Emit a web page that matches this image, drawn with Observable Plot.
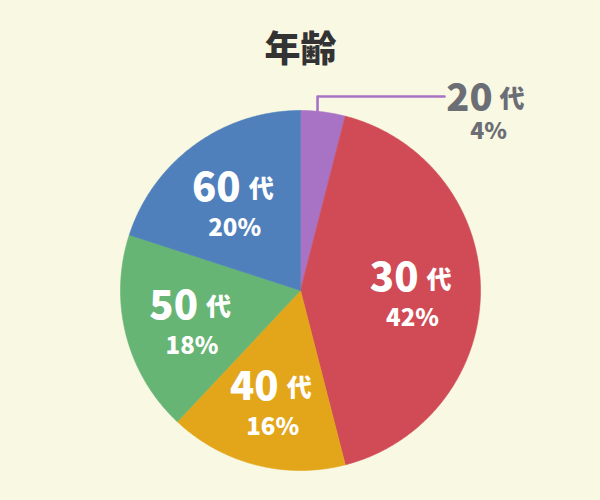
<!DOCTYPE html>
<html>
<head>
<meta charset="utf-8">
<script src="https://cdn.jsdelivr.net/npm/d3@7"></script>
<script src="https://cdn.jsdelivr.net/npm/@observablehq/plot@0.6"></script>
<style>
  html, body { margin: 0; padding: 0; background: #f9f8e3; }
  #chart { width: 600px; height: 500px; }
</style>
</head>
<body>
<div id="chart"></div>
<script>
const title = "年齢";
const categories = ["20代", "30代", "40代", "50代", "60代"];
const values = [4, 42, 16, 18, 20];
const colors = ["#a873c4", "#d04b55", "#e3a61a", "#67b574", "#4f80bb"];
const outsideLabels = ["20代"];

const R = 180;          // pie radius (px units)
const labelR = 112;     // inside label radius
const font = "'Noto Sans CJK JP', 'Noto Sans', sans-serif";

const arcs = d3.pie().sort(null).value(d => d.value).startAngle(0).endAngle(2 * Math.PI)(
  categories.map((name, i) => ({name, value: values[i]}))
);

const toXY = (a, r) => [r * Math.sin(a), r * Math.cos(a)];

// polygon points of each slice
const slicePts = [];
for (const a of arcs) {
  const name = a.data.name;
  slicePts.push({name, x: 0, y: 0});
  const n = Math.max(2, Math.ceil((a.endAngle - a.startAngle) / (Math.PI / 360)));
  for (let k = 0; k <= n; k++) {
    const t = a.startAngle + (a.endAngle - a.startAngle) * k / n;
    const [x, y] = toXY(t, R);
    slicePts.push({name, x, y});
  }
  slicePts.push({name, x: 0, y: 0});
}

const inside = arcs.filter(a => !outsideLabels.includes(a.data.name)).map(a => {
  const m = (a.startAngle + a.endAngle) / 2;
  const [x, y] = toXY(m, labelR);
  const name = a.data.name;
  return {x, y, num: name.slice(0, -1), suf: name.slice(-1), pct: a.data.value + "%"};
});

const outside = arcs.filter(a => outsideLabels.includes(a.data.name)).map(a => {
  const m = (a.startAngle + a.endAngle) / 2;
  const xl = labelR * Math.sin(m) + 3;
  const yl = Math.sqrt(R * R - xl * xl);
  const name = a.data.name;
  return {x0: xl, y0: yl, x1: xl, y1: R + 14, x2: xl + 127, tx: xl + 171,
          num: name.slice(0, -1), suf: name.slice(-1), pct: a.data.value + "%"};
});
const leader = outside.flatMap((d, i) => [
  {i, x: d.x0, y: d.y0}, {i, x: d.x1, y: d.y1}, {i, x: d.x2, y: d.y1}
]);

const chart = Plot.plot({
  width: 600,
  height: 500,
  margin: 0,
  x: {domain: [-300, 300], axis: null},
  y: {domain: [-210, 290], axis: null},
  color: {domain: categories, range: colors},
  style: {background: "transparent", fontFamily: font},
  marks: [
    Plot.line(slicePts, {x: "x", y: "y", z: "name", fill: "name", stroke: "name", strokeWidth: 0.6, curve: "linear"}),
    // title
    Plot.text([title], {frameAnchor: "top", dy: 50, lineAnchor: "middle", fontSize: 36, fontWeight: 900, fill: "#333333"}),
    // inside labels
    Plot.text(inside, {x: "x", y: "y", text: "num", dx: 6, dy: -12, textAnchor: "end", lineAnchor: "middle", fontSize: 40, fontWeight: 900, fill: "white"}),
    Plot.text(inside, {x: "x", y: "y", text: "suf", dx: 14, dy: -10, textAnchor: "start", lineAnchor: "middle", fontSize: 25, fontWeight: 900, fill: "white"}),
    Plot.text(inside, {x: "x", y: "y", text: "pct", dy: 28, textAnchor: "middle", lineAnchor: "middle", fontSize: 24, fontWeight: 900, fill: "white"}),
    // outside label with leader
    Plot.line(leader, {x: "x", y: "y", z: "i", stroke: colors[0], strokeWidth: 2.6}),
    Plot.text(outside, {x: "tx", y: "y1", text: "num", dx: 4, dy: 2, textAnchor: "end", lineAnchor: "middle", fontSize: 38, fontWeight: 900, fill: "#6b6e74"}),
    Plot.text(outside, {x: "tx", y: "y1", text: "suf", dx: 11, dy: 3, textAnchor: "start", lineAnchor: "middle", fontSize: 25, fontWeight: 900, fill: "#6b6e74"}),
    Plot.text(outside, {x: "tx", y: "y1", text: "pct", dy: 35, textAnchor: "middle", lineAnchor: "middle", fontSize: 23, fontWeight: 900, fill: "#6b6e74"})
  ]
});
document.getElementById("chart").appendChild(chart);
</script>
</body>
</html>
